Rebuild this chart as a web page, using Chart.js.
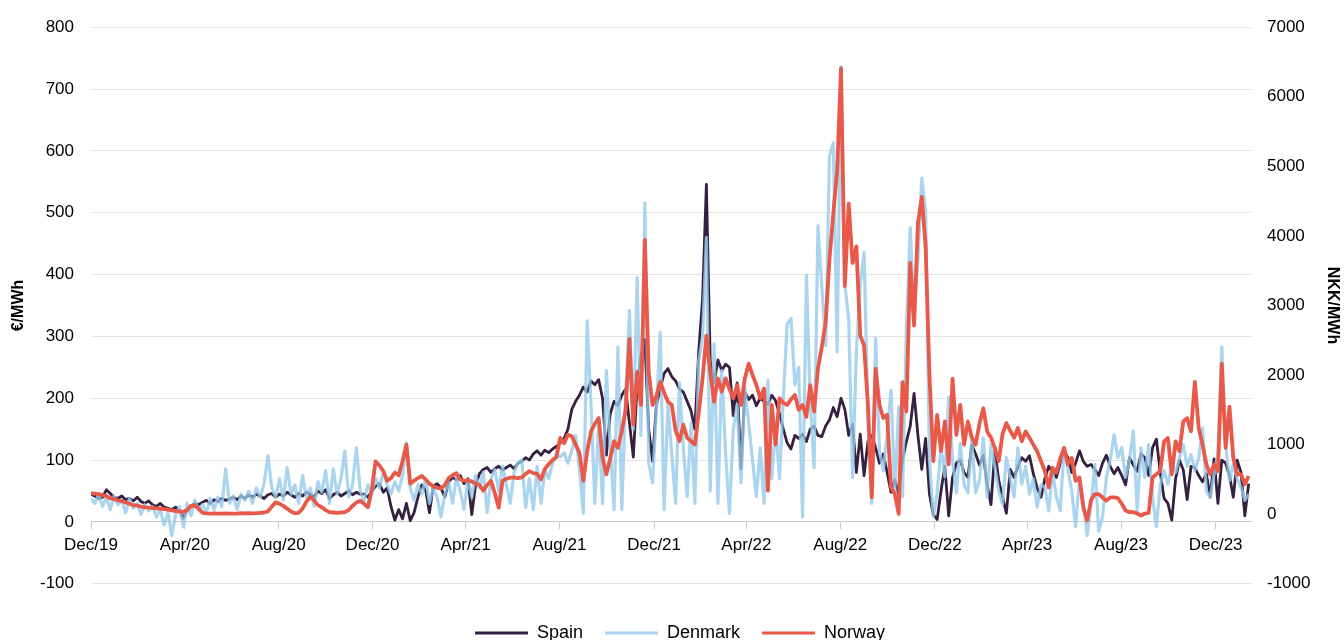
<!DOCTYPE html>
<html>
<head>
<meta charset="utf-8">
<script src="https://cdn.jsdelivr.net/npm/chart.js@4.4.0/dist/chart.umd.min.js"></script>
<style>
  html, body { margin: 0; padding: 0; background: #fff; }
</style>
</head>
<body>
<canvas id="chart" width="1344" height="640"></canvas>
<script>
// Daily prices, sampled every 5 days from 1 Dec 2019
const stepDays = 5;

// x ticks (days since 1 Dec 2019) and their labels
const tickDays = [0, 122, 244, 366, 487, 609, 732, 852, 974, 1097, 1217, 1339, 1462];
const tickLabels = ["Dec/19", "Apr/20", "Aug/20", "Dec/20", "Apr/21", "Aug/21", "Dec/21",
                    "Apr/22", "Aug/22", "Dec/22", "Apr/23", "Aug/23", "Dec/23"];

// Spain, EUR/MWh
const spain = [
  45, 42, 38, 40, 52, 46, 40, 38, 42, 36,
  38, 34, 40, 33, 30, 34, 28, 25, 30, 24,
  22, 20, 24, 18, 6, 20, 26, 30, 28, 32,
  35, 30, 36, 33, 38, 35, 37, 40, 36, 42,
  38, 44, 40, 45, 42, 38, 44, 46, 40, 45,
  42, 48, 44, 40, 46, 42, 48, 45, 40, 50,
  46, 52, 38, 44, 48, 42, 46, 50, 44, 48,
  45, 45, 40, 50, 58, 62, 48, 55, 25, 3,
  20, 5, 30, 2, 15, 40, 60, 52, 15, 58,
  62, 55, 40, 65, 72, 68, 75, 62, 70, 12,
  60, 78, 85, 88, 80, 86, 90, 84, 88, 92,
  86, 95, 98, 104, 100, 110, 115, 108, 116, 112,
  118, 122, 128, 135, 150, 182, 195, 205, 218, 210,
  228, 222, 230, 200, 108, 175, 195, 188, 205, 215,
  160, 105, 220, 270, 295, 150, 98, 190, 215, 240,
  248, 235, 228, 215, 210, 195, 180, 150, 275, 360,
  546, 260, 225, 262, 245, 255, 250, 172, 225, 86,
  210, 198, 205, 188, 200, 195, 190, 205, 196, 175,
  150, 128, 118, 140, 135, 142, 130, 150, 155, 140,
  138, 155, 165, 185, 170, 200, 182, 140, 158, 80,
  142, 75, 130, 140, 120, 95, 110, 80, 48, 68,
  45, 100, 130, 155, 208, 140, 85, 135, 45, 12,
  4, 50, 90, 10, 72, 95, 100, 80, 72, 125,
  110, 92, 108, 60, 28, 115, 68, 40, 14, 85,
  72, 90, 104, 98, 107, 78, 55, 40, 70, 90,
  80, 72, 95, 115, 104, 80, 95, 115, 98, 90,
  93, 85, 75, 95, 108, 90, 78, 88, 75, 60,
  104, 92, 82, 110, 104, 75, 120, 134, 80, 38,
  30, 3, 70, 100, 84, 36, 90, 88, 75, 65,
  78, 40, 102, 30, 100, 95, 75, 40, 100, 80,
  10, 62
];

// Denmark, EUR/MWh
const denmark = [
  38, 30, 45, 25, 40, 20, 42, 28, 35, 15,
  38, 22, 30, 12, 28, 18, 25, 8, 20, -5,
  15, -22, 12, 25, -8, 30, 10, 35, 18, 28,
  15, 38, 20, 40, 25, 86, 30, 42, 20, 45,
  35, 50, 30, 55, 40, 62, 107, 55, 40, 70,
  35, 88, 45, 60, 30, 75, 40, 55, 25, 65,
  48, 83, 30, 86, 45, 70, 115, 40, 60, 120,
  50, 35, 60, 45, 70, 55, 80, 60, 45, 65,
  50, 75, 128, 55, 35, 60, 45, 70, 30, 55,
  40, 8, 45, 65, 30, 72, 50, 20, 68, 40,
  75, 55, 80, 15, 70, 85, 50, 90, 60, 30,
  80, 95, 100, 23, 70, 20, 90, 30, 85, 70,
  95, 110, 105, 112, 95, 115, 140, 84, 14, 325,
  190, 30, 160, 30, 245, 120, 20, 283, 20, 200,
  342, 150, 395, 140, 516, 95, 63, 180, 307, 20,
  191, 110, 30, 225, 120, 41, 160, 30, 260, 300,
  460, 50, 288, 30, 245, 110, 14, 150, 190, 63,
  218, 160, 100, 41, 120, 30, 229, 70, 155, 70,
  200, 320, 329, 222, 250, 8, 399, 195, 88, 479,
  383, 285, 592, 613, 275, 736, 383, 329, 72, 275,
  383, 436, 170, 30, 297, 115, 83, 142, 213, 47,
  186, 41, 315, 476, 342, 422, 556, 503, 100, 9,
  47, 122, 73, 202, 100, 47, 127, 60, 47, 132,
  47, 67, 136, 40, 125, 90, 50, 29, 104, 70,
  40, 120, 61, 90, 45, 70, 24, 60, 56, 18,
  83, 40, 18, 120, 85, 50, -8, 72, 30, -22,
  29, 93, -15, 8, 72, 100, 141, 104, 120, 72,
  100, 147, 18, 120, 72, 125, 40, -8, 60, 83,
  61, 93, 80, 104, 125, 90, 109, 83, 104, 152,
  50, 40, 77, 110, 283, 125, 67, 93, 70, 56,
  35, 45
];

// Norway, NOK/MWh (right axis)
const norway = [
  300, 295, 290, 275, 260, 230, 215, 200, 190, 170,
  150, 130, 125, 110, 100, 95, 90, 85, 80, 75,
  65, 55, 45, 40, 35, 60, 120, 125, 80, 20,
  12, 10, 12, 8, 10, 12, 10, 8, 10, 15,
  12, 15, 12, 15, 20, 25, 40, 110, 170, 150,
  120, 80, 40, 15, 20, 80, 180, 250, 200, 130,
  100, 60, 30, 25, 20, 25, 30, 60, 120, 170,
  195, 150, 100, 350, 760, 700, 620, 480, 520, 600,
  560, 760, 1000, 440, 480, 520, 550, 500, 440, 400,
  380, 370, 420, 520, 560, 590, 500, 480, 490, 470,
  440, 420, 340, 420, 480, 300, 95, 480, 510, 525,
  530, 520, 530, 580, 620, 590, 580, 500, 650, 720,
  780, 820, 1097, 1020, 1144, 1120, 1000, 880, 481, 900,
  1192, 1300, 1382, 812, 575, 800, 1050, 954, 1192, 1500,
  2521, 1287, 2046, 1571, 3943, 2046, 1571, 1700, 1903, 1750,
  1618, 1571, 1200, 1050, 1287, 1097, 1050, 1003, 1450, 1951,
  2568, 2046, 1618, 1951, 1761, 1951, 1800, 1666, 1855, 1571,
  1951, 2164, 2000, 1855, 1666, 1808, 338, 1571, 1003, 1666,
  1600, 1571, 1650, 1713, 1500, 1571, 1400, 1855, 1476, 2093,
  2400, 2750, 3659, 4323, 4940, 6410, 3280, 4465, 3611, 3849,
  2567, 2425, 1571, 242, 2093, 1570, 1382, 1428, 384, 290,
  5, 1900, 1476, 3611, 2710, 4180, 4560, 3848, 1998, 764,
  1428, 906, 1333, 716, 1950, 1140, 1570, 1000, 1333, 1100,
  1000, 1300, 1523, 1190, 1100, 954, 764, 1150, 1310, 1200,
  1100, 1240, 1048, 1190, 1100, 1000, 906, 764, 622, 385,
  669, 600, 800, 954, 715, 810, 480, 527, 100, -90,
  200, 290, 290, 240, 195, 242, 242, 230, 150, 52,
  30, 30, 10, -19, 10, 20, 527, 574, 620, 1048,
  1096, 574, 1048, 906, 1333, 1380, 1190, 1903, 1240, 1000,
  715, 574, 715, 622, 2164, 954, 1547, 810, 574, 574,
  431, 550
];

const days = spain.map((_, i) => i * stepDays);

Chart.defaults.font.family = "'Liberation Sans', Arial, sans-serif";
Chart.defaults.color = "#000";

const ctx = document.getElementById("chart").getContext("2d");

new Chart(ctx, {
  type: "line",
  data: {
    labels: days,
    datasets: [
      {
        label: "Spain",
        data: spain,
        yAxisID: "y",
        borderColor: "#35203f",
        backgroundColor: "#35203f",
        borderWidth: 2.8,
        order: 3
      },
      {
        label: "Denmark",
        data: denmark,
        yAxisID: "y",
        borderColor: "rgba(150, 203, 235, 0.8)",
        backgroundColor: "rgba(150, 203, 235, 0.8)",
        borderWidth: 3.2,
        order: 2
      },
      {
        label: "Norway",
        data: norway,
        yAxisID: "y1",
        borderColor: "#e8594a",
        backgroundColor: "#e8594a",
        borderWidth: 3.8,
        order: 1
      }
    ]
  },
  options: {
    responsive: false,
    animation: false,
    devicePixelRatio: 1,
    elements: {
      point: { radius: 0 },
      line: { tension: 0, borderJoinStyle: "round" }
    },
    layout: { padding: { top: 22, bottom: -12, left: 16, right: 0 } },
    plugins: {
      tooltip: { enabled: false },
      legend: {
        position: "bottom",
        title: { display: true, text: "", font: { size: 1 }, padding: { top: 0, bottom: 17 } },
        labels: {
          boxWidth: 53,
          boxHeight: 3,
          padding: 22,
          color: "#000",
          font: { size: 18 },
          generateLabels: (chart) =>
            Chart.defaults.plugins.legend.labels.generateLabels(chart)
              .map(item => Object.assign(item, { lineWidth: 0, fillStyle: item.strokeStyle })),
          sort: (a, b) => a.datasetIndex - b.datasetIndex
        }
      }
    },
    scales: {
      x: {
        type: "linear",
        min: 0,
        max: 1508,
        position: { y: 0 },
        afterBuildTicks: (scale) => {
          scale.ticks = tickDays.map(v => ({ value: v }));
        },
        ticks: {
          autoSkip: false,
          maxRotation: 0,
          color: "#000",
          font: { size: 17 },
          padding: 6,
          callback: (value, index) => tickLabels[index]
        },
        grid: { drawOnChartArea: false, drawTicks: true, tickLength: 7, color: "#c8c8c8" },
        border: { display: true, color: "#c8c8c8", width: 1 }
      },
      y: {
        position: "left",
        min: -100,
        max: 800,
        afterFit: (scale) => { scale.width = 75; },
        ticks: { stepSize: 100, color: "#000", font: { size: 17 }, padding: 17, callback: (v) => String(v) },
        grid: { color: "#e3e3e3", drawTicks: false },
        border: { display: false },
        title: {
          display: true,
          text: "€/MWh",
          color: "#000",
          font: { size: 16, weight: "bold" },
          padding: { top: -7, bottom: 0 }
        }
      },
      y1: {
        position: "right",
        min: -1000,
        max: 7000,
        afterFit: (scale) => { scale.width = 93; },
        ticks: { stepSize: 1000, color: "#000", font: { size: 17 }, padding: 16, callback: (v) => String(v) },
        grid: { drawOnChartArea: false, drawTicks: false },
        border: { display: false },
        title: {
          display: true,
          text: "NKK/MWh",
          color: "#000",
          font: { size: 16, weight: "bold" },
          padding: { top: 2, bottom: 0 }
        }
      }
    }
  }
});
</script>
</body>
</html>
